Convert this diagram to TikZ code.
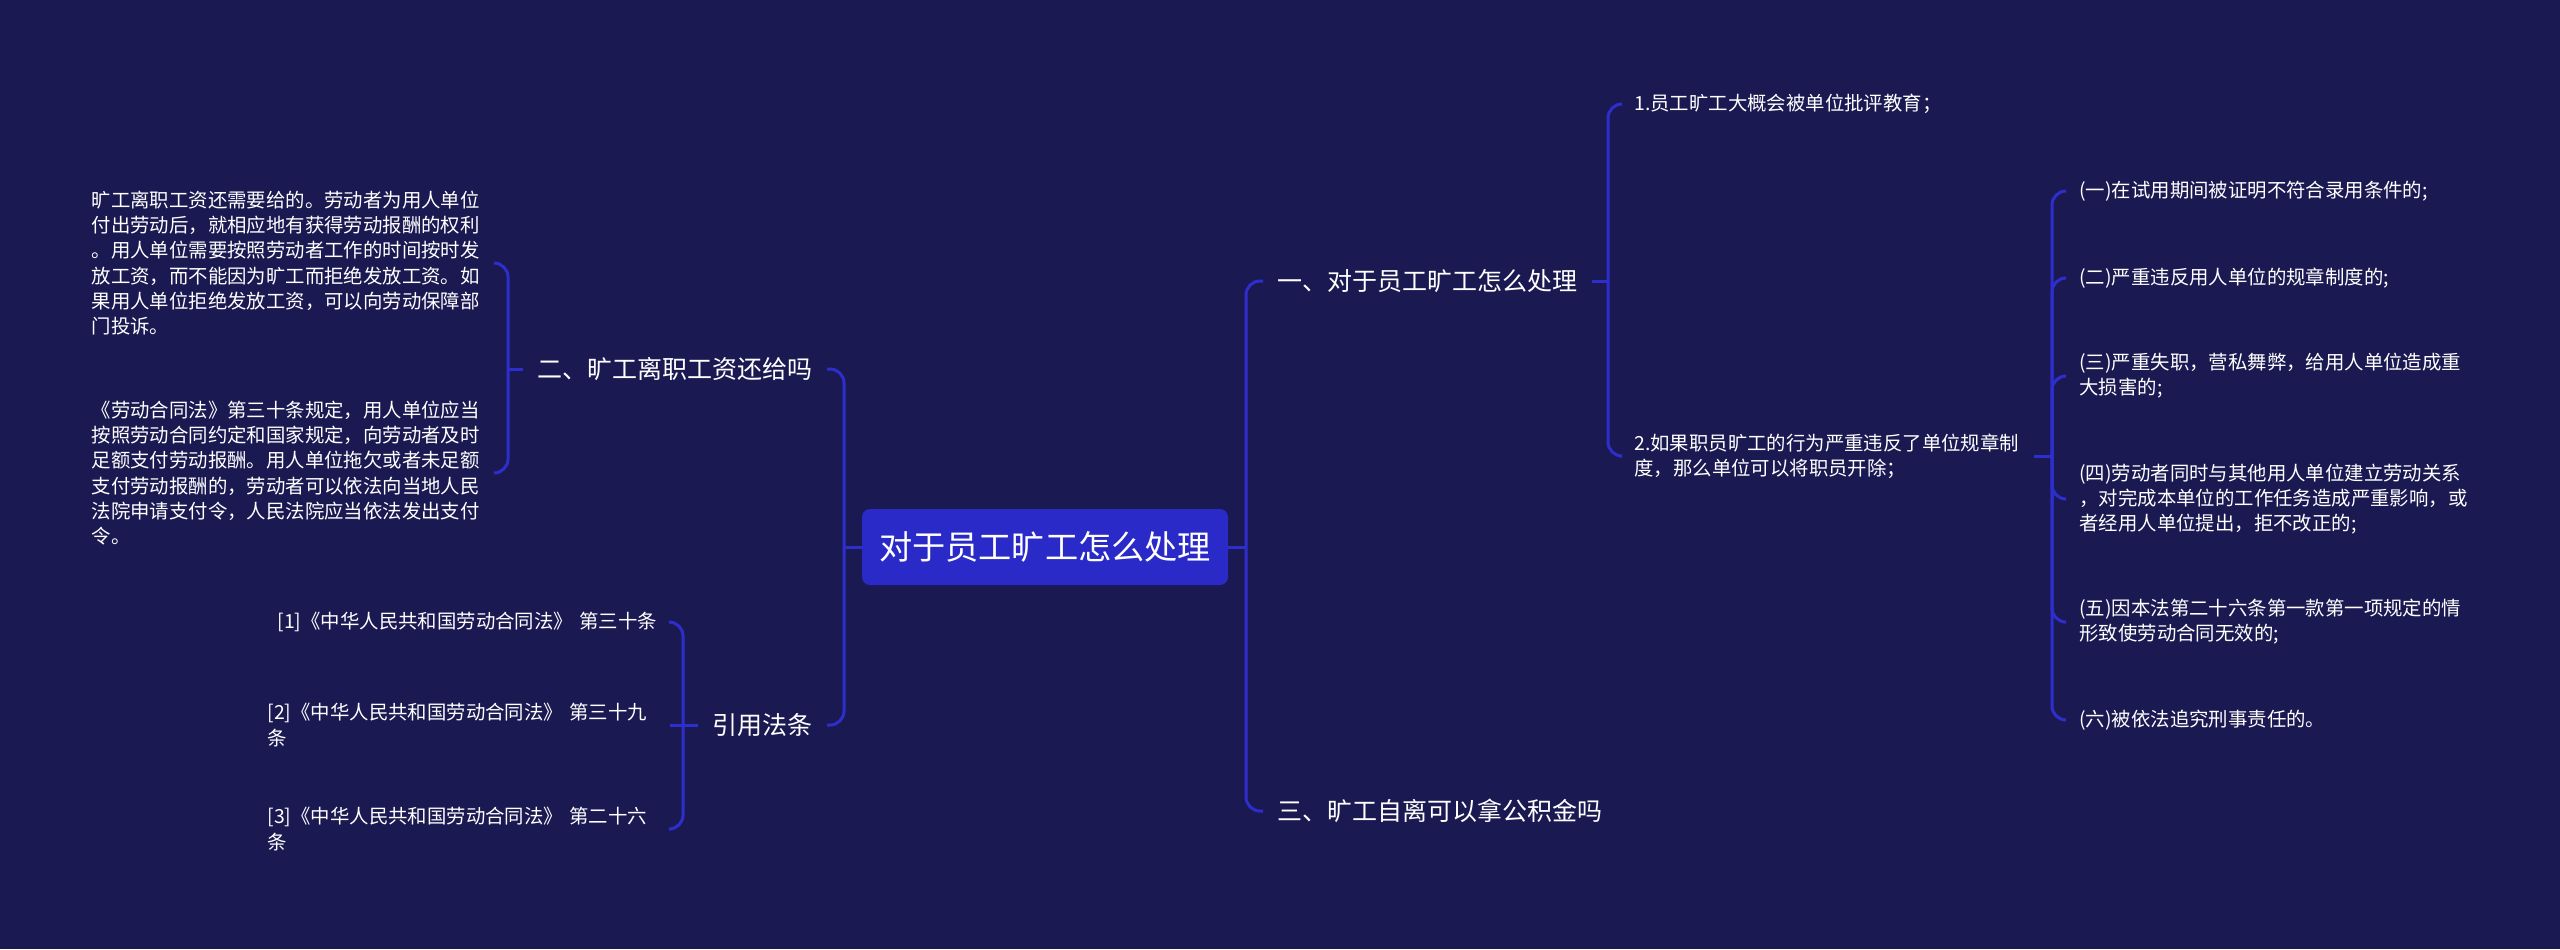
\documentclass[tikz,border=0pt]{standalone}
\usepackage{fontspec}
\setmainfont{Noto Sans CJK SC}
\definecolor{bgnavy}{HTML}{1B1951}
\definecolor{linkblue}{HTML}{2E2ECF}
\definecolor{rootblue}{HTML}{2A2AC9}
\tikzset{
  rootnode/.style={
    rectangle, rounded corners=4pt, fill=rootblue, text=white,
    minimum width=183pt, minimum height=38pt, align=center,
    font=\fontsize{16.6}{20}\selectfont
  },
  topicnode/.style={
    text=white, inner xsep=7pt, inner ysep=3pt,
    font=\fontsize{12.5}{15}\selectfont
  },
  leafnode/.style={
    text=white, inner xsep=7pt, inner ysep=2pt, align=left,
    font=\fontsize{9.7}{12.6}\selectfont
  },
  link/.style={draw=linkblue, line width=1.5pt},
  branchlink/.style={link, rounded corners=7pt}
}

\begin{document}
\begin{tikzpicture}[x=0.5pt,y=-0.5pt]

  % Background
  \fill[bgnavy] (0,0) rectangle (2560,949);

  % Root
  \node[rootnode] (root) at (1045,547) {对于员工旷工怎么处理};

  % Right-hand topics
  \node[topicnode, anchor=west] (handle) at (1263,281) {一、对于员工旷工怎么处理};
  \node[topicnode, anchor=west] (fund) at (1263,811) {三、旷工自离可以拿公积金吗};

  \node[leafnode, anchor=west] (criticize) at (1620,104)
  {1.员工旷工大概会被单位批评教育；};
  \node[leafnode, anchor=west] (dismiss) at (1620,456)
  {2.如果职员旷工的行为严重违反了单位规章制\\度，那么单位可以将职员开除；};

  % Grounds for dismissal
  \node[leafnode, anchor=west] (case1) at (2065,191)
  {(一)在试用期间被证明不符合录用条件的;};
  \node[leafnode, anchor=west] (case2) at (2065,278)
  {(二)严重违反用人单位的规章制度的;};
  \node[leafnode, anchor=west] (case3) at (2065,376)
  {(三)严重失职，营私舞弊，给用人单位造成重\\大损害的;};
  \node[leafnode, anchor=west] (case4) at (2065,499)
  {(四)劳动者同时与其他用人单位建立劳动关系\\，对完成本单位的工作任务造成严重影响，或\\者经用人单位提出，拒不改正的;};
  \node[leafnode, anchor=west] (case5) at (2065,622)
  {(五)因本法第二十六条第一款第一项规定的情\\形致使劳动合同无效的;};
  \node[leafnode, anchor=west] (case6) at (2065,720)
  {(六)被依法追究刑事责任的。};

  % Left-hand topics
  \node[topicnode, anchor=east] (wage) at (827,369) {二、旷工离职工资还给吗};
  \node[topicnode, anchor=east] (laws) at (827,725) {引用法条};

  \node[leafnode, anchor=east, text width=194pt] (wagepay) at (494,263)
  {旷工离职工资还需要给的。劳动者为用人单位\\付出劳动后，就相应地有获得劳动报酬的权利\\。用人单位需要按照劳动者工作的时间按时发\\放工资，而不能因为旷工而拒绝发放工资。如\\果用人单位拒绝发放工资，可以向劳动保障部\\门投诉。};
  \node[leafnode, anchor=east, text width=194pt] (lawpay) at (494,473)
  {《劳动合同法》第三十条规定，用人单位应当\\按照劳动合同约定和国家规定，向劳动者及时\\足额支付劳动报酬。用人单位拖欠或者未足额\\支付劳动报酬的，劳动者可以依法向当地人民\\法院申请支付令，人民法院应当依法发出支付\\令。};

  % References
  \node[leafnode, anchor=east, text width=194pt] (ref1) at (670,622)
  {\hspace*{5pt}[1]《中华人民共和国劳动合同法》~第三十条};
  \node[leafnode, anchor=east, text width=194pt] (ref2) at (670,725)
  {[2]《中华人民共和国劳动合同法》~第三十九\\条};
  \node[leafnode, anchor=east, text width=194pt] (ref3) at (670,829)
  {[3]《中华人民共和国劳动合同法》~第二十六\\条};

  % Junctions
  \coordinate (rj) at (1246,547);
  \coordinate (lj) at (844,547);
  \coordinate (hj) at (1608,281);
  \coordinate (dj) at (2052,456);
  \coordinate (wj) at (508,369);
  \coordinate (aj) at (683,725);

  % Connectors
  \draw[link] (root.east) -- (rj);
  \draw[branchlink] (rj) |- (handle.west);
  \draw[branchlink] (rj) |- (fund.west);

  \draw[link] (handle.east) -- (hj);
  \draw[branchlink] (hj) |- (criticize.west);
  \draw[branchlink] (hj) |- (dismiss.west);

  \draw[link] (dismiss.east) -- (dj);
  \foreach \c in {case1,case2,case3,case4,case5,case6}
    \draw[branchlink] (dj) |- (\c.west);

  \draw[link] (root.west) -- (lj);
  \draw[branchlink] (lj) |- (wage.east);
  \draw[branchlink] (lj) |- (laws.east);

  \draw[link] (wage.west) -- (wj);
  \draw[branchlink] (wj) |- (wagepay.east);
  \draw[branchlink] (wj) |- (lawpay.east);

  \draw[link] (laws.west) -- (aj);
  \draw[branchlink] (aj) |- (ref1.east);
  \draw[link] (aj) -- (ref2.east);
  \draw[branchlink] (aj) |- (ref3.east);

\end{tikzpicture}
\end{document}
